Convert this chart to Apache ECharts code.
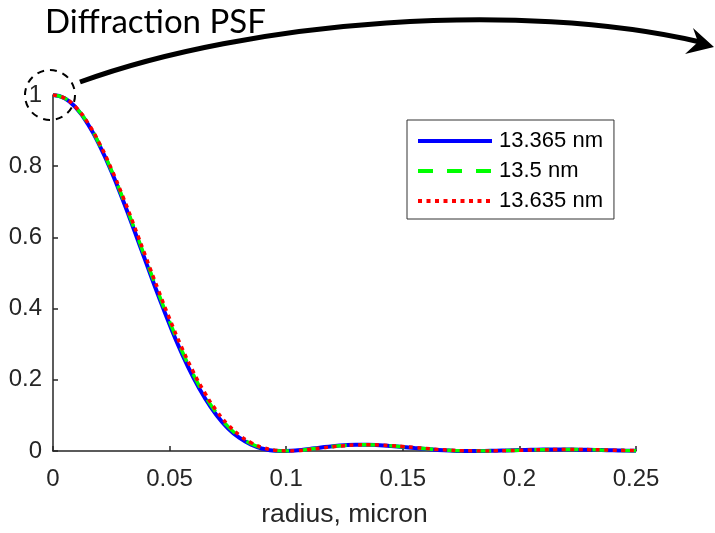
<!DOCTYPE html>
<html>
<head>
<meta charset="utf-8">
<script src="https://cdn.jsdelivr.net/npm/echarts@6/dist/echarts.min.js"></script>
<style>
  html, body { margin: 0; padding: 0; background: #fff; }
  #psfChart { width: 715px; height: 533px; }
</style>
</head>
<body>
<div id="psfChart"></div>
<script>
// radius, micron (step 0.005)
var radius = [0, 0.005, 0.01, 0.015, 0.02, 0.025, 0.03, 0.035, 0.04, 0.045,
  0.05, 0.055, 0.06, 0.065, 0.07, 0.075, 0.08, 0.085, 0.09, 0.095,
  0.1, 0.105, 0.11, 0.115, 0.12, 0.125, 0.13, 0.135, 0.14, 0.145,
  0.15, 0.155, 0.16, 0.165, 0.17, 0.175, 0.18, 0.185, 0.19, 0.195,
  0.2, 0.205, 0.21, 0.215, 0.22, 0.225, 0.23, 0.235, 0.24, 0.245, 0.25];

// 13.365 nm
var psfShort = [1, 0.9906, 0.9628, 0.9179, 0.8580, 0.7857, 0.7043, 0.6171, 0.5278, 0.4395,
  0.3553, 0.2779, 0.2091, 0.1501, 0.1018, 0.0640, 0.0366, 0.0177, 0.0063, 0.0008,
  0.0003, 0.0020, 0.0059, 0.0100, 0.0136, 0.0162, 0.0174, 0.0173, 0.0160, 0.0137,
  0.0110, 0.0081, 0.0054, 0.0031, 0.0014, 0.0003, 0.0001, 0.0003, 0.0008, 0.0016,
  0.0026, 0.0034, 0.0039, 0.0042, 0.0041, 0.0038, 0.0032, 0.0025, 0.0018, 0.0011, 0.0005];

// 13.5 nm
var psfMid = [1, 0.9908, 0.9635, 0.9194, 0.8606, 0.7895, 0.7093, 0.6232, 0.5348, 0.4472,
  0.3634, 0.2860, 0.2168, 0.1572, 0.1080, 0.0691, 0.0405, 0.0205, 0.0080, 0.0016,
  0.0001, 0.0015, 0.0051, 0.0091, 0.0128, 0.0156, 0.0172, 0.0174, 0.0164, 0.0144,
  0.0118, 0.0090, 0.0062, 0.0038, 0.0019, 0.0006, 0.0001, 0.0001, 0.0006, 0.0013,
  0.0022, 0.0031, 0.0037, 0.0041, 0.0041, 0.0039, 0.0035, 0.0028, 0.0021, 0.0014, 0.0008];

// 13.635 nm
var psfLong = [1, 0.9910, 0.9642, 0.9209, 0.8632, 0.7933, 0.7143, 0.6293, 0.5418, 0.4549,
  0.3715, 0.2941, 0.2245, 0.1643, 0.1142, 0.0742, 0.0444, 0.0233, 0.0097, 0.0024,
  0.0003, 0.0010, 0.0043, 0.0082, 0.0120, 0.0150, 0.0170, 0.0175, 0.0168, 0.0151,
  0.0126, 0.0099, 0.0070, 0.0045, 0.0024, 0.0009, 0.0002, 0.0000, 0.0004, 0.0010,
  0.0018, 0.0028, 0.0035, 0.0040, 0.0041, 0.0040, 0.0038, 0.0031, 0.0024, 0.0017, 0.0011];

var seriesNames = ['13.365 nm', '13.5 nm', '13.635 nm'];
var xTicks = [0, 0.05, 0.1, 0.15, 0.2, 0.25];
var yTicks = [0, 0.2, 0.4, 0.6, 0.8, 1];

function pairs(ys) {
  return radius.map(function (r, i) { return [r, ys[i]]; });
}

var axisColor = '#262626';
var chart = echarts.init(document.getElementById('psfChart'));

chart.setOption({
  animation: false,
  grid: { left: 53, right: 79, top: 95, bottom: 81 },
  xAxis: {
    type: 'value',
    min: xTicks[0],
    max: xTicks[xTicks.length - 1],
    interval: 0.05,
    name: 'radius, micron',
    nameLocation: 'middle',
    nameGap: 50,
    nameTextStyle: { fontSize: 26.5, color: axisColor, fontFamily: 'Liberation Sans' },
    axisLine: { lineStyle: { color: axisColor, width: 1.5 } },
    axisTick: { inside: true, length: 5, lineStyle: { color: axisColor, width: 1.5 } },
    axisLabel: { fontSize: 24, color: axisColor, margin: 16, fontFamily: 'Liberation Sans' },
    splitLine: { show: false }
  },
  yAxis: {
    type: 'value',
    min: yTicks[0],
    max: yTicks[yTicks.length - 1],
    interval: 0.2,
    axisLine: { show: true, lineStyle: { color: axisColor, width: 1.5 } },
    axisTick: { show: true, inside: true, length: 5, lineStyle: { color: axisColor, width: 1.5 } },
    axisLabel: { fontSize: 24, color: axisColor, margin: 11, fontFamily: 'Liberation Sans' },
    splitLine: { show: false }
  },
  legend: {
    orient: 'vertical',
    left: 407,
    top: 120,
    padding: [10, 11, 7, 9],
    itemGap: 8,
    itemWidth: 74,
    itemHeight: 16,
    borderColor: '#333',
    borderWidth: 1,
    backgroundColor: '#fff',
    itemStyle: { opacity: 0 },
    lineStyle: { width: 4 },
    textStyle: { fontSize: 22, color: '#000', fontFamily: 'Liberation Sans', padding: [0, 0, 0, 2] },
    data: seriesNames
  },
  series: [
    {
      name: seriesNames[0], type: 'line', data: pairs(psfShort), smooth: true,
      symbol: 'none', lineStyle: { color: '#0000ff', width: 4 }, itemStyle: { color: '#0000ff' }
    },
    {
      name: seriesNames[1], type: 'line', data: pairs(psfMid), smooth: true,
      symbol: 'none', lineStyle: { color: '#00ff00', width: 3.5, type: [15, 14] }, itemStyle: { color: '#00ff00' }
    },
    {
      name: seriesNames[2], type: 'line', data: pairs(psfLong), smooth: true,
      symbol: 'none', lineStyle: { color: '#ff0000', width: 3.5, type: [4, 4.5] }, itemStyle: { color: '#ff0000' }
    }
  ],
  graphic: [
    {
      type: 'text', left: 45, top: 6,
      style: { text: 'Diffraction PSF', fontSize: 33, fontFamily: 'Lato', fill: '#000' }
    },
    {
      type: 'circle', shape: { cx: 50, cy: 95, r: 25 },
      style: { fill: 'none', stroke: '#000', lineWidth: 2, lineDash: [7, 6] }, z: 100
    },
    {
      type: 'bezierCurve',
      shape: { x1: 80, y1: 82, cpx1: 250, cpy1: 20, cpx2: 520, cpy2: 0, x2: 700, y2: 42 },
      style: { stroke: '#000', lineWidth: 5, fill: 'none' }, z: 100
    },
    {
      type: 'polygon',
      shape: { points: [[714, 47], [693, 28], [698, 42], [685, 54]] },
      style: { fill: '#000' }, z: 100
    }
  ]
});
</script>
</body>
</html>
